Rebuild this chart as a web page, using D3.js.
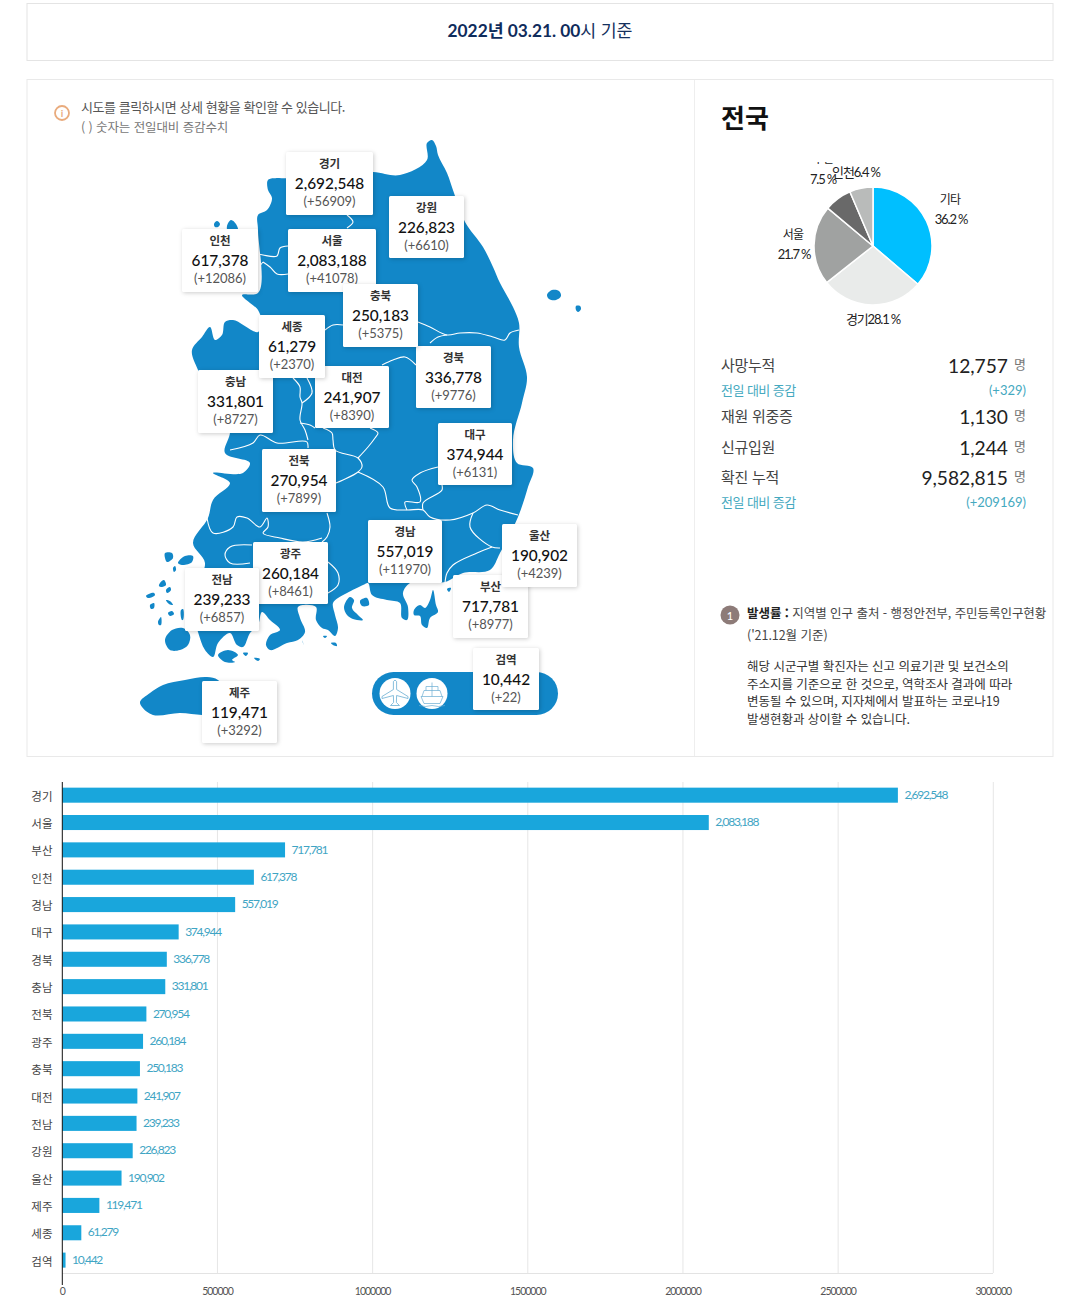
<!DOCTYPE html>
<html lang="ko"><head><meta charset="utf-8">
<script src="https://cdn.jsdelivr.net/npm/d3@7"></script>
<style>
html,body{margin:0;padding:0;background:#fff}
svg{display:block}
text{font-family:Lato,"Noto Sans CJK KR",sans-serif}
</style></head><body>
<svg id="c" width="1080" height="1301" viewBox="0 0 1080 1301"></svg>
<script>
// ---------- data ----------
const regions = ["경기","서울","부산","인천","경남","대구","경북","충남","전북","광주","충북","대전","전남","강원","울산","제주","세종","검역"];
const totals  = [2692548,2083188,717781,617378,557019,374944,336778,331801,270954,260184,250183,241907,239233,226823,190902,119471,61279,10442];
const deltas  = [56909,41078,8977,12086,11970,6131,9776,8727,7899,8461,5375,8390,6857,6610,4239,3292,2370,22];
const axisTicks = [0,500000,1000000,1500000,2000000,2500000,3000000];
const pieLabels = ["기타","경기","서울","부산","인천"];
const pieShares = [36.2,28.1,21.7,7.5,6.4];
const pieColors = ["#00bfff","#e9ebea","#a0a2a1","#696969","#b9bbba"];
const statNames = ["사망누적","재원 위중증","신규입원","확진 누적"];
const statValues = ["12,757","1,130","1,244","9,582,815"];
const statDeltas = ["(+329)",null,null,"(+209169)"];

// ---------- map geometry (traced outline, page pixels) ----------
const mainland = [[427,143],[432,140],[436,146],[438,155],[447,173],[454,193],[465,222],[483,247],[493,267],[500,283],[513,307],[519,323],[519,347],[527,377],[522,403],[513,440],[517,463],[533,468],[528,487],[518,517],[500,553],[490,570],[463,573],[445,582],[410,583],[403,593],[408,607],[407,620],[402,618],[400,603],[387,600],[372,595],[368,583],[363,585],[347,593],[338,598],[333,603],[335,615],[338,628],[335,636],[328,630],[322,628],[316,620],[316,607],[298,607],[300,618],[305,632],[298,640],[287,643],[270,650],[266,645],[270,635],[280,630],[270,620],[262,612],[258,625],[250,633],[243,647],[237,645],[230,633],[218,643],[213,657],[205,650],[198,632],[190,600],[205,563],[193,543],[208,518],[213,500],[230,483],[213,473],[243,473],[250,463],[225,453],[230,430],[198,370],[192,350],[202,337],[210,327],[215,340],[222,335],[225,322],[233,320],[258,332],[262,325],[258,310],[250,303],[242,295],[258,293],[258,230],[258,215],[267,210],[272,198],[268,190],[268,180],[278,178],[287,178],[300,170],[373,172],[400,175],[427,160]];
const islands = [
 [[165,553],[172,553],[173,558],[167,562],[165,558]],[[178,563],[185,556],[193,556],[192,562],[182,565]],[[173,568],[175,566],[176,570],[174,572]],
 [[160,583],[164,580],[166,585],[162,587],[159,586]],[[166,590],[170,587],[171,590],[167,593]],[[146,596],[154,593],[155,595],[148,598]],
 [[150,605],[154,603],[154,608],[151,609]],[[166,600],[170,601],[173,605],[169,604]],[[168,613],[172,611],[174,614],[170,616]],
 [[158,622],[161,617],[161,625],[159,625]],[[181,610],[183,609],[183,620],[182,620]],[[165,640],[172,630],[183,628],[190,635],[188,645],[180,650],[170,650]],
 [[218,655],[228,650],[238,655],[232,660],[235,662],[225,662]],[[243,653],[248,653],[246,656]],[[254,658],[260,659],[258,661]],
 [[302,640],[303,643],[304,645]],[[323,636],[327,636],[325,638]],[[331,643],[336,643],[337,646],[333,645]],
 [[344,607],[350,597],[354,600],[352,608],[358,615],[363,620],[353,619],[347,615]],[[360,601],[367,598],[369,605],[362,606]],
 [[414,610],[420,605],[425,608],[430,600],[433,590],[436,605],[438,612],[430,618],[427,628],[422,625],[420,616],[414,615]],
 [[447,589],[451,588],[449,592]],
 [[547,295],[552,290],[559,291],[561,296],[556,300],[549,299]],[[576,306],[580,306],[581,309],[578,312],[576,310]],
 [[214,224],[217,221],[220,224],[218,227],[215,227]],[[227,226],[231,220],[236,224],[238,232],[228,232]],
 [[140,702],[150,693],[163,685],[185,680],[207,677],[218,680],[230,700],[215,715],[202,715],[180,713],[153,715],[142,707]]
];
const borders = [
 [[347,215],[353,222],[347,228]],[[258,254],[263,255],[277,256],[280,248],[288,246]],[[263,262],[270,267],[277,274],[288,274]],[[263,262],[258,270],[260,280],[258,290]],
 [[418,322],[430,327],[447,335],[460,333],[477,333],[493,337],[505,340],[510,333],[519,330]],[[430,343],[438,337],[447,335]],[[325,330],[333,325],[343,325]],[[382,365],[393,360],[405,357],[416,365]],
 [[293,378],[300,387],[300,397],[302,403],[300,420],[305,430],[308,440]],[[307,378],[312,393],[302,403]],[[300,423],[310,425],[315,428]],
 [[323,428],[332,433],[333,440],[335,450],[358,458],[362,467],[358,472],[343,480],[336,483]],[[370,428],[378,433],[375,438],[368,447],[358,458]],
 [[230,450],[253,443],[260,435],[277,443],[307,442],[308,448]],
 [[358,472],[383,487],[390,508],[407,510],[423,510],[430,517],[450,520],[473,513],[487,505],[500,510],[518,515]],
 [[407,510],[405,502],[420,502],[417,487],[412,480],[420,473],[438,467]],[[423,510],[423,503],[442,490],[442,485]],
 [[473,513],[470,527],[492,547],[500,548]],[[492,547],[477,553],[453,565],[447,573],[445,583]],
 [[327,513],[330,527],[327,537],[322,542]],
 [[207,518],[213,533],[233,527],[237,517],[247,518],[260,527],[267,518],[268,527],[263,533],[280,538],[303,542],[322,538]],
 [[252,545],[230,547],[225,555],[230,563],[250,563]],[[328,562],[338,573],[338,585],[328,593]]
];
// card box placement: left, top, right, bottom
const cardBoxes = {"경기":[286,152,373,215],"강원":[389,196,464,258],"인천":[182,229,258,292],"서울":[288,229,376,292],"충북":[343,284,418,347],"세종":[259,315,325,378],"경북":[416,346,491,408],"충남":[198,370,273,433],"대전":[315,366,389,428],"대구":[438,423,512,485],"전북":[262,449,336,512],"경남":[368,520,442,583],"울산":[502,524,577,587],"광주":[253,542,328,604],"전남":[185,568,259,631],"부산":[453,575,528,638],"검역":[473,648,539,710],"제주":[202,681,277,743]};

const svg = d3.select("#c");
const KR = '"Noto Sans CJK KR",Lato,sans-serif';
const T = (g,x,y,s,o={})=>{const t=g.append("text").attr("x",x).attr("y",y-1).attr("dominant-baseline","central").attr("text-anchor",o.a||"start").attr("font-size",o.s||13).attr("fill",o.f||"#333").attr("font-weight",o.w||400).text(s);
  if(o.ff)t.style("font-family",o.ff); if(o.ls!=null)t.attr("letter-spacing",o.ls); return t;};

// ---------- frames ----------
svg.append("rect").attr("x",27).attr("y",3.5).attr("width",1026).attr("height",57).attr("fill","#fff").attr("stroke","#e4e4e4");
svg.append("rect").attr("x",27).attr("y",79.5).attr("width",1026).attr("height",677).attr("fill","#fff").attr("stroke","#e9e9e9");
svg.append("line").attr("x1",694.5).attr("x2",694.5).attr("y1",80).attr("y2",756).attr("stroke","#eeeeee");
const h=svg.append("text").attr("x",540).attr("y",30).attr("text-anchor","middle").attr("dominant-baseline","central").attr("font-size",17.3);
h.append("tspan").attr("fill","#0f2c5c").attr("font-weight",700).text("2022년 03.21. 00");
h.append("tspan").attr("fill","#15305c").attr("font-weight",400).text("시 기준");

// ---------- note ----------
svg.append("circle").attr("cx",62).attr("cy",113).attr("r",7).attr("fill","#fff").attr("stroke","#e9ab7d").attr("stroke-width",1.8);
T(svg,62,114,"i",{a:"middle",s:10,f:"#e9ab7d",w:700});
T(svg,81,107,"시도를 클릭하시면 상세 현황을 확인할 수 있습니다.",{s:13,f:"#555",ls:-.45,ff:KR});
T(svg,81,127,"( ) 숫자는 전일대비 증감수치",{s:12.5,f:"#777",ls:-.1,ff:KR});

// ---------- map ----------
const mapBlue="#1287c8";
const smooth=d3.line().curve(d3.curveCatmullRomClosed.alpha(.6));
const open=d3.line().curve(d3.curveCatmullRom.alpha(.6));
const map=svg.append("g");
map.append("path").attr("d",smooth(mainland)).attr("fill",mapBlue);
map.selectAll("path.i").data(islands).join("path").attr("class","i").attr("d",smooth).attr("fill",mapBlue);
map.selectAll("path.b").data(borders).join("path").attr("class","b").attr("d",open).attr("fill","none").attr("stroke","#fff").attr("stroke-width",1.1);
// airport/port pill
map.append("rect").attr("x",372).attr("y",672).attr("width",186).attr("height",43).attr("rx",21.5).attr("fill",mapBlue);
const iconC="#6aaed3";
[395,432].forEach(x=>map.append("circle").attr("cx",x).attr("cy",693.5).attr("r",15.5).attr("fill","#fff"));
map.append("path").attr("transform","translate(395,693.5)").attr("fill","none").attr("stroke",iconC).attr("stroke-width",.8)
 .attr("d","M-1.6,-12 Q0,-15 1.6,-12 L1.6,-4 L13,3 L13,5 L1.6,2 L1.4,9 L4.5,12 L-4.5,12 L-1.4,9 L-1.6,2 L-13,5 L-13,3 L-1.6,-4 Z");
map.append("path").attr("transform","translate(432,693.5)").attr("fill","none").attr("stroke",iconC).attr("stroke-width",.7)
 .attr("d","M-10,3 L-8,-3 L8,-3 L10,3 M-6,-3 L-6,-7 L6,-7 L6,-3 M0,-11 L0,3 M-11,3 L11,3 L8,10 L-8,10 Z M-13,12 Q-6.5,14 0,12 Q6.5,14 13,12");

// ---------- region cards ----------
const cards=svg.append("g");
regions.forEach((r,i)=>{
 const [l,t,rr,b]=cardBoxes[r], cx=(l+rr)/2;
 const g=cards.append("g");
 g.append("rect").attr("x",l).attr("y",t).attr("width",rr-l).attr("height",b-t).attr("rx",1.5).attr("fill","#fff").style("filter","drop-shadow(1.5px 1.5px 2px rgba(0,0,0,.2))");
 T(g,cx,t+12,r,{a:"middle",s:11.5,f:"#333",w:700,ff:KR});
 T(g,cx,t+32,d3.format(",")(totals[i]),{a:"middle",s:15.4,f:"#111",w:500});
 T(g,cx,t+50,"(+"+deltas[i]+")",{a:"middle",s:13,f:"#555"});
});

// ---------- right panel ----------
T(svg,721,117,"전국",{s:26,f:"#111",w:700,ff:KR});
const pieG=svg.append("g").attr("transform","translate(873,246)");
const pie=d3.pie().sort(null)(pieShares);
const arc=d3.arc().innerRadius(0).outerRadius(59);
pieG.selectAll("path").data(pie).join("path").attr("d",arc).attr("fill",(d,i)=>pieColors[i]).attr("stroke","#fff").attr("stroke-width",1.5);
const pl=(i)=>pieShares[i].toFixed(1)+" %";
const pOpts={a:"middle",s:13,f:"#222",ls:-1.15};
T(svg,950,199,pieLabels[0],{...pOpts,s:12,ls:-.7,ff:KR});
T(svg,951,220,pl(0),pOpts);
T(svg,873,320,pieLabels[1]+pl(1),{...pOpts});
T(svg,793,234,pieLabels[2],{...pOpts,s:12,ls:-.7,ff:KR});
T(svg,794,255,pl(2),pOpts);
T(svg,823,180,pl(3),pOpts);
T(svg,856,173,pieLabels[4]+pl(4),pOpts);
svg.append("clipPath").attr("id","pc").append("rect").attr("x",800).attr("y",162).attr("width",60).attr("height",12);
svg.append("g").attr("clip-path","url(#pc)").call(g=>T(g,823,158,pieLabels[3],{...pOpts,s:12,ls:-.7,ff:KR}));

const statY=[365,416,447,477];
statNames.forEach((n,i)=>{
 T(svg,721,statY[i],n,{s:15,f:"#444",ff:KR,ls:-.3});
 T(svg,1008,statY[i]+1,statValues[i],{a:"end",s:19.2,f:"#222"});
 T(svg,1020,statY[i]-.5,"명",{a:"middle",s:13,f:"#777",ff:KR});
 if(statDeltas[i]){
  T(svg,721,statY[i]+25,"전일 대비 증감",{s:13,f:"#45a9bf",ff:KR,ls:-.55});
  T(svg,1026,statY[i]+25.5,statDeltas[i],{a:"end",s:13,f:"#45a9bf"});
 }
});
svg.append("circle").attr("cx",730).attr("cy",615).attr("r",9.5).attr("fill","#8d7b78");
T(svg,730,616,"1",{a:"middle",s:11,f:"#fff",w:500});
const ft=svg.append("text").attr("x",747).attr("y",612).attr("dominant-baseline","central").attr("font-size",12.5).attr("letter-spacing",-.05).style("font-family",KR);
ft.append("tspan").attr("font-weight",700).attr("fill","#222").text("발생률 : ");
ft.append("tspan").attr("fill","#444").text("지역별 인구 출처 - 행정안전부, 주민등록인구현황");
T(svg,747,635,"('21.12월 기준)",{s:12.5,f:"#444",ls:-.05,ff:KR});
["해당 시군구별 확진자는 신고 의료기관 및 보건소의","주소지를 기준으로 한 것으로, 역학조사 결과에 따라","변동될 수 있으며, 지자체에서 발표하는 코로나19","발생현황과 상이할 수 있습니다."].forEach((s,i)=>
 T(svg,747,[666,684,701,719][i],s,{s:12.5,f:"#333",ls:-.03,ff:KR}));

// ---------- bar chart ----------
const x=d3.scaleLinear().domain([0,3000000]).range([62.3,993.3]);
const y=d3.scaleBand().domain(regions).range([781.5,1273.8]).paddingInner(.45).paddingOuter(.225);
const chart=svg.append("g");
chart.append("g").selectAll("line").data(axisTicks.slice(1)).join("line").attr("x1",d=>x(d)).attr("x2",d=>x(d)).attr("y1",782).attr("y2",1273).attr("stroke","#e6e6e6");
chart.append("line").attr("x1",62).attr("x2",993).attr("y1",1273.5).attr("y2",1273.5).attr("stroke","#e3e3e3");
chart.selectAll("rect.bar").data(regions).join("rect").attr("class","bar").attr("x",x(0)).attr("y",d=>y(d)).attr("height",y.bandwidth())
 .attr("width",(d,i)=>x(totals[i])-x(0)).attr("fill","#19a6dc");
chart.append("line").attr("x1",62.3).attr("x2",62.3).attr("y1",782).attr("y2",1285).attr("stroke","#111").attr("stroke-width",1);
regions.forEach((r,i)=>{
 const cy=y(r)+y.bandwidth()/2;
 T(chart,52.5,cy+1.5,r,{a:"end",s:11.5,f:"#444",ff:KR});
 T(chart,x(totals[i])+6.5,cy+.2,d3.format(",")(totals[i]),{s:12,f:"#3fa5c4",ls:-1.25});
});
axisTicks.forEach(t=>T(chart,x(t),1292,String(t),{a:"middle",s:10.5,f:"#555",ls:-1}));
</script></body></html>
